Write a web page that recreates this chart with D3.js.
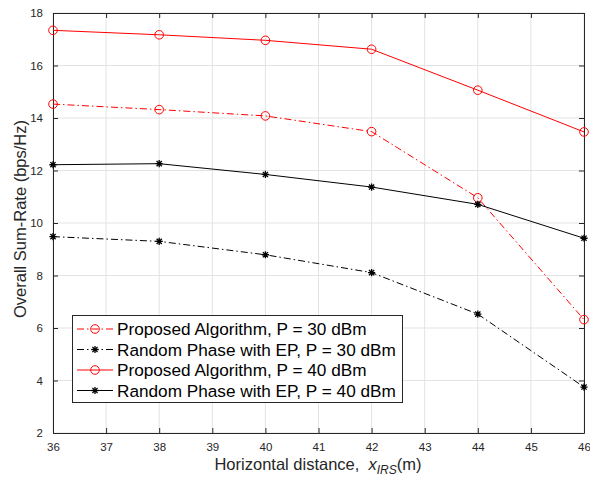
<!DOCTYPE html>
<html><head><meta charset="utf-8">
<script src="https://cdn.jsdelivr.net/npm/d3@7"></script>
<style>body{margin:0;background:#fff}svg{display:block;font-family:"Liberation Sans",Arial,Helvetica,sans-serif}</style>
</head><body><svg id="c" width="590" height="479"></svg>
<script>
const xValues = [36, 38, 40, 42, 44, 46];
const propP30 = [14.53, 14.32, 14.08, 13.48, 10.96, 6.32];
const randP30 = [9.48, 9.30, 8.79, 8.11, 6.53, 3.75];
const propP40 = [17.34, 17.17, 16.96, 16.62, 15.06, 13.47];
const randP40 = [12.22, 12.26, 11.85, 11.37, 10.71, 9.42];
const xTicks = [36,37,38,39,40,41,42,43,44,45,46];
const yTicks = [2,4,6,8,10,12,14,16,18];
const seriesNames = ["Proposed Algorithm, P = 30 dBm","Random Phase with EP, P = 30 dBm","Proposed Algorithm, P = 40 dBm","Random Phase with EP, P = 40 dBm"];

const series = [
  {name: seriesNames[0], vals: propP30, color: "#ff0000", dash: "7,3,1.5,3", marker: "o"},
  {name: seriesNames[1], vals: randP30, color: "#000000", dash: "7,3,1.5,3", marker: "*"},
  {name: seriesNames[2], vals: propP40, color: "#ff0000", dash: null, marker: "o"},
  {name: seriesNames[3], vals: randP40, color: "#000000", dash: null, marker: "*"}
];

const svg = d3.select("#c");
const L = 53, R = 584, T = 13, B = 433;
const x = d3.scaleLinear().domain([36,46]).range([L,R]);
const y = d3.scaleLinear().domain([2,18]).range([B,T]);
const axisColor = "#262626";

// grid
const g = svg.append("g");
g.selectAll("line.gx").data(xTicks).join("line")
  .attr("x1", d=>x(d)).attr("x2", d=>x(d)).attr("y1", T).attr("y2", B)
  .attr("stroke", "#e3e3e3").attr("stroke-width", 1);
g.selectAll("line.gy").data(yTicks).join("line")
  .attr("y1", d=>y(d)).attr("y2", d=>y(d)).attr("x1", L).attr("x2", R)
  .attr("stroke", "#e3e3e3").attr("stroke-width", 1);

// axes
const xAxis = d3.axisBottom(x).tickValues(xTicks).tickSizeInner(-5).tickSizeOuter(0).tickPadding(10);
const yAxis = d3.axisLeft(y).tickValues(yTicks).tickSizeInner(-5).tickSizeOuter(0).tickPadding(10);
const xa = svg.append("g").attr("transform", `translate(0,${B})`).call(xAxis);
const ya = svg.append("g").attr("transform", `translate(${L},0)`).call(yAxis);
const xt = svg.append("g").attr("transform", `translate(0,${T})`).call(d3.axisTop(x).tickValues(xTicks).tickSizeInner(-5).tickSizeOuter(0).tickFormat(""));
const yr = svg.append("g").attr("transform", `translate(${R},0)`).call(d3.axisRight(y).tickValues(yTicks).tickSizeInner(-5).tickSizeOuter(0).tickFormat(""));
[xa,ya,xt,yr].forEach(a=>{
  a.select(".domain").attr("stroke", axisColor).attr("stroke-width", 1);
  a.selectAll(".tick line").attr("stroke", axisColor);
  a.selectAll(".tick text").attr("fill", axisColor).style("font-size", "11.5px").style("font-family", '"Liberation Sans",Arial,sans-serif');
});

// lines
const line = d3.line().x((d,i)=>x(xValues[i])).y(d=>y(d));
function drawMarker(sel, type, color, cx, cy) {
  if (type === "o") {
    sel.append("circle").attr("cx", cx).attr("cy", cy).attr("r", 4.3)
      .attr("fill", "none").attr("stroke", color).attr("stroke-width", 1);
  } else {
    const s = 3.6, d = 2.6;
    sel.append("path").attr("d",
      `M${cx-s},${cy}L${cx+s},${cy}M${cx},${cy-s}L${cx},${cy+s}M${cx-d},${cy-d}L${cx+d},${cy+d}M${cx-d},${cy+d}L${cx+d},${cy-d}`)
      .attr("stroke", color).attr("stroke-width", 1.3).attr("fill","none");
  }
}
const plot = svg.append("g");
series.forEach(s=>{
  plot.append("path").datum(s.vals).attr("d", line)
    .attr("fill","none").attr("stroke", s.color).attr("stroke-width", 1)
    .attr("stroke-dasharray", s.dash);
  const mg = plot.append("g");
  s.vals.forEach((v,i)=>drawMarker(mg, s.marker, s.color, x(xValues[i]), y(v)));
});

// legend
const lg = svg.append("g");
lg.append("rect").attr("x", 72.5).attr("y", 315.5).attr("width", 330).attr("height", 87)
  .attr("fill", "#fff").attr("stroke", axisColor).attr("stroke-width", 1);
series.forEach((s,i)=>{
  const yy = 329 + i*20.5;
  lg.append("line").attr("x1", 77).attr("x2", 113).attr("y1", yy).attr("y2", yy)
    .attr("stroke", s.color).attr("stroke-width", 1).attr("stroke-dasharray", s.dash);
  drawMarker(lg, s.marker, s.color, 95, yy);
  lg.append("text").attr("x", 117).attr("y", yy + 6).text(s.name)
    .style("font-size", "17.2px").attr("fill", "#000");
});

// axis labels
svg.append("text").attr("x", 318).attr("y", 470).attr("text-anchor","middle")
  .style("font-size","16.5px").attr("fill", axisColor)
  .html('Horizontal distance, &#160;<tspan font-style="italic">x</tspan><tspan font-style="italic" font-size="12px" dy="4">IRS</tspan><tspan dy="-4">(m)</tspan>');
svg.append("text").attr("transform", `translate(26,${(T+B)/2 - 4}) rotate(-90)`).attr("text-anchor","middle")
  .style("font-size","16.5px").attr("fill", axisColor).text("Overall Sum-Rate (bps/Hz)");
</script></body></html>
